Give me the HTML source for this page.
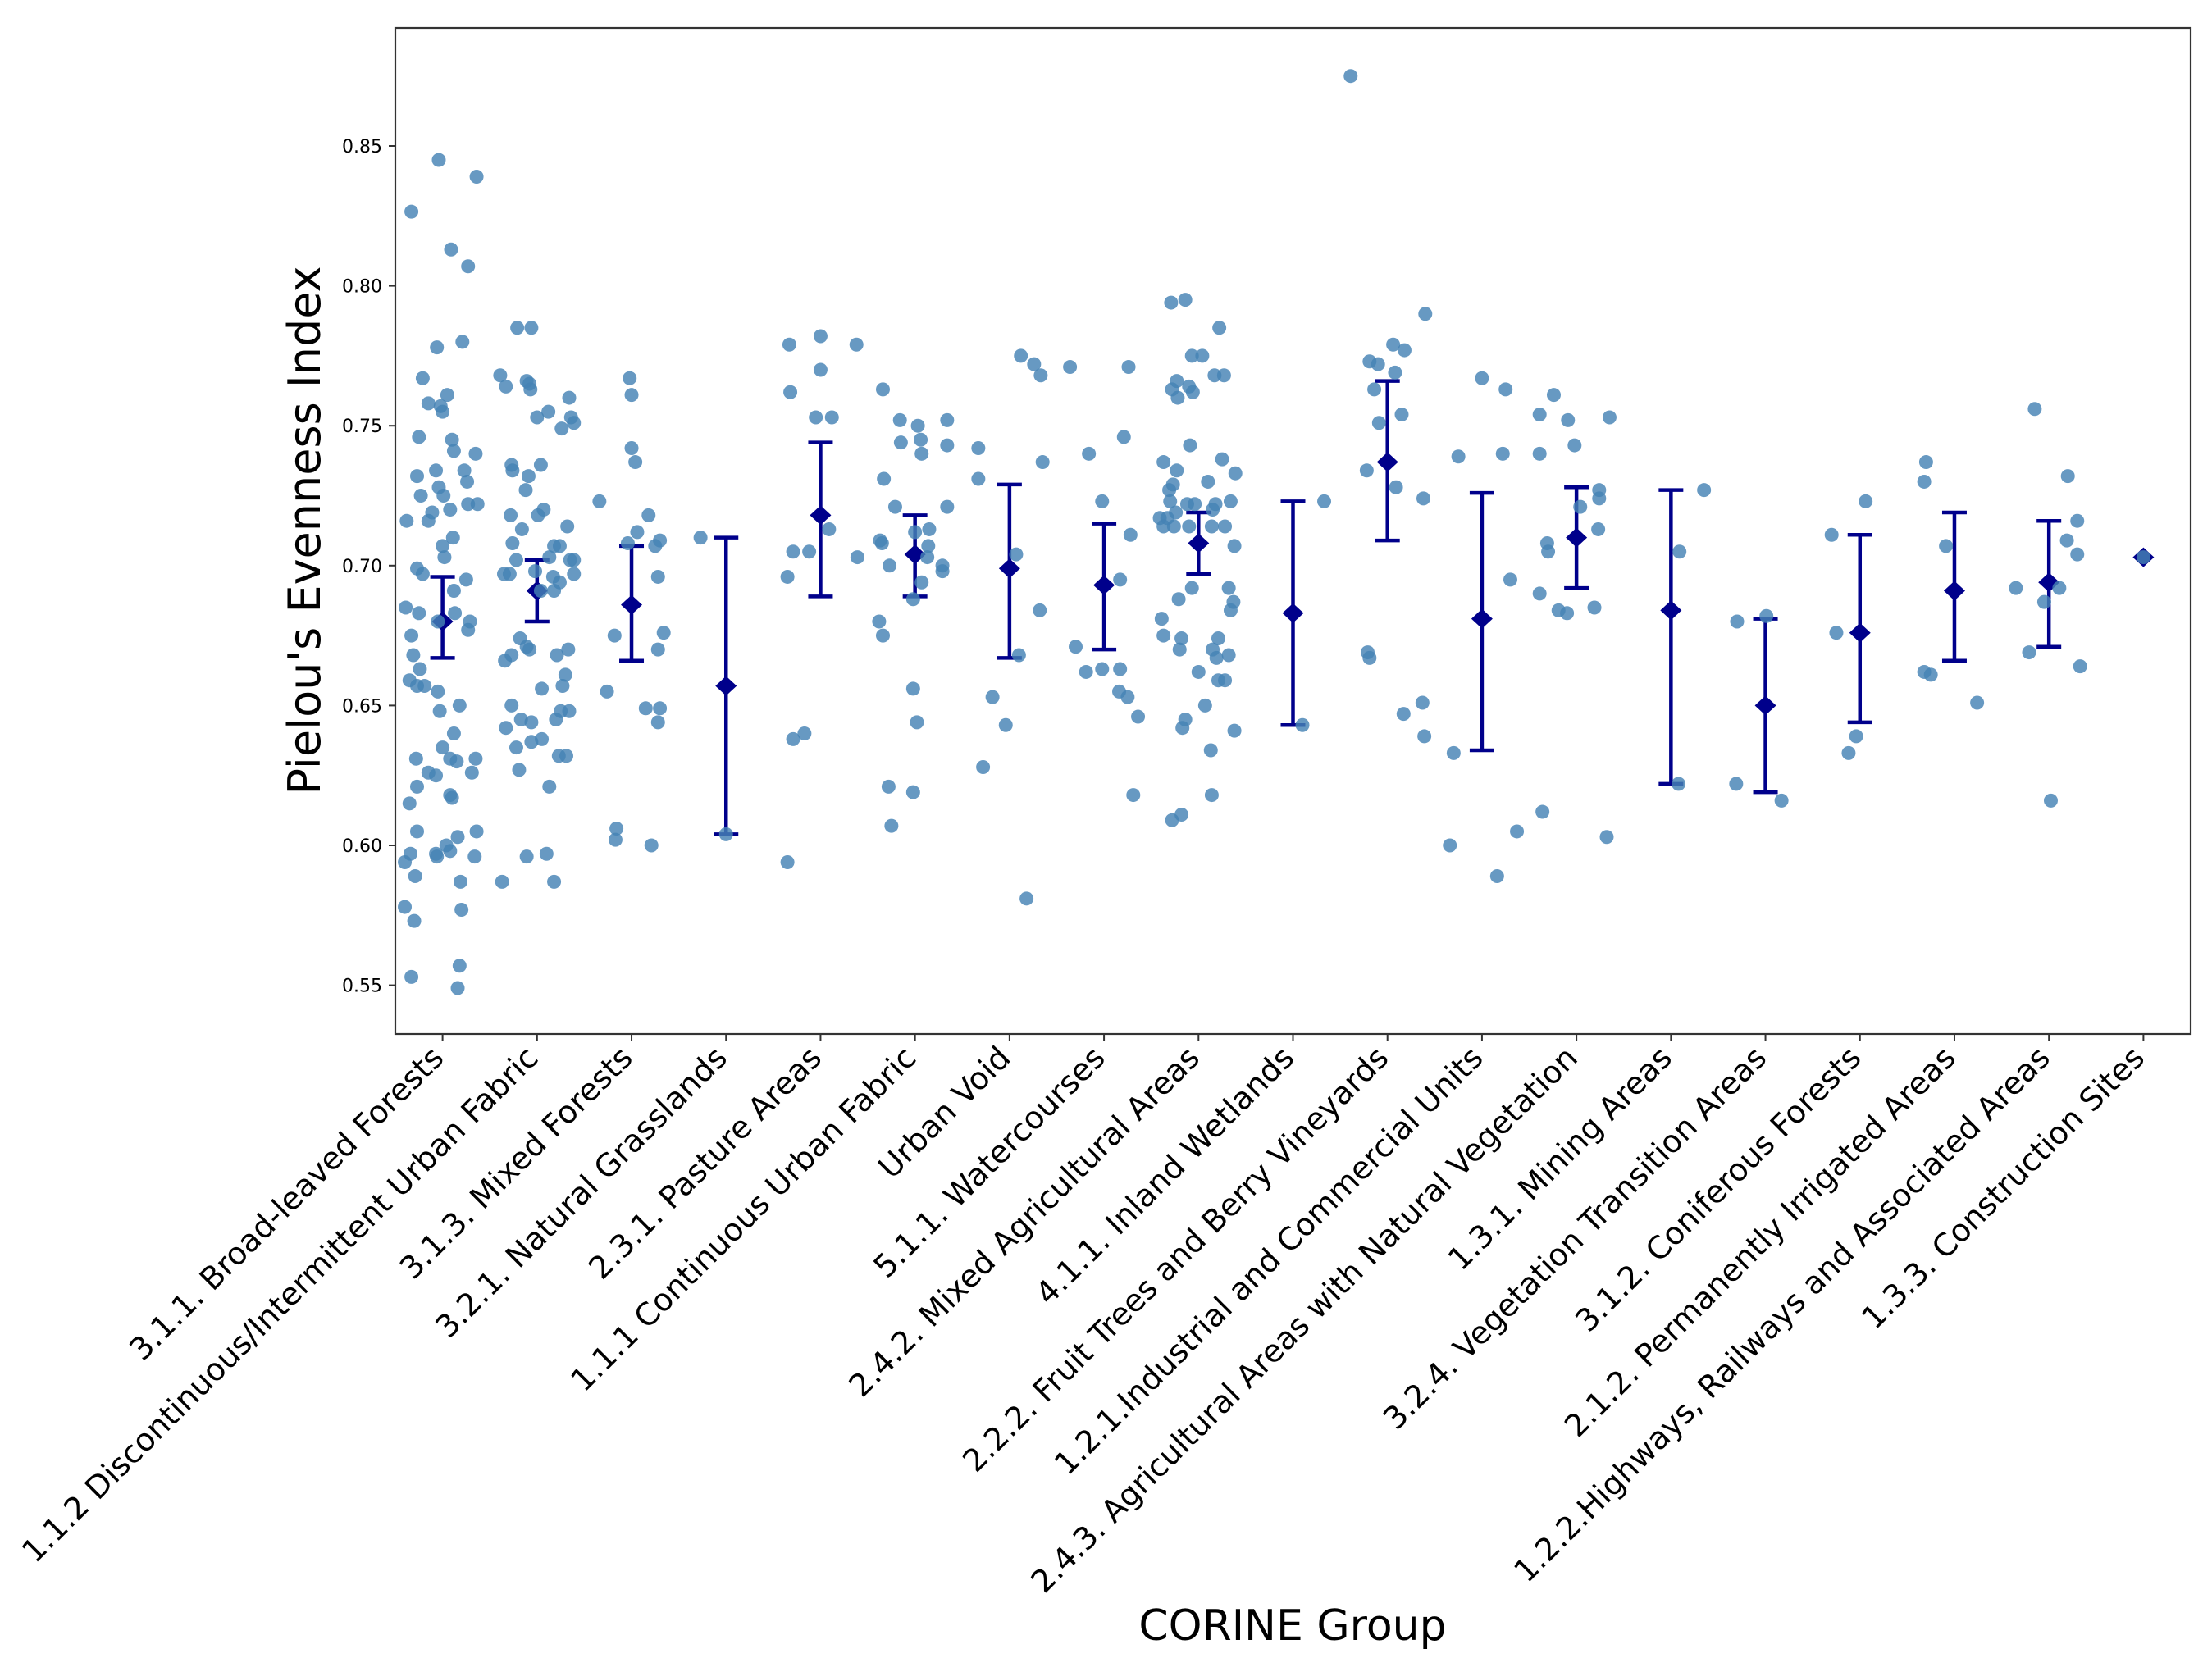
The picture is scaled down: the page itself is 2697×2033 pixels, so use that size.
<!DOCTYPE html>
<html><head><meta charset="utf-8"><style>
html,body{margin:0;padding:0;background:#fff;}
svg{display:block;font-family:"DejaVu Sans","Liberation Sans",sans-serif;}
</style></head><body>
<svg id="chart" width="2697" height="2033" viewBox="0 0 2697 2033"></svg>
<script>
const categories=["3.1.1. Broad-leaved Forests","1.1.2 Discontinuous/Intermittent Urban Fabric","3.1.3. Mixed Forests","3.2.1. Natural Grasslands","2.3.1. Pasture Areas","1.1.1 Continuous Urban Fabric","Urban Void","5.1.1. Watercourses","2.4.2. Mixed Agricultural Areas","4.1.1. Inland Wetlands","2.2.2. Fruit Trees and Berry Vineyards","1.2.1.Industrial and Commercial Units","2.4.3. Agricultural Areas with Natural Vegetation","1.3.1. Mining Areas","3.2.4. Vegetation Transition Areas","3.1.2. Coniferous Forests","2.1.2. Permanently Irrigated Areas","1.2.2.Highways, Railways and Associated Areas","1.3.3. Construction Sites"];
const means=[0.680,0.691,0.686,0.657,0.718,0.704,0.699,0.693,0.708,0.683,0.737,0.681,0.710,0.684,0.650,0.676,0.691,0.694,0.703];
const errLow=[0.667,0.680,0.666,0.604,0.689,0.689,0.667,0.670,0.697,0.643,0.709,0.634,0.692,0.622,0.619,0.644,0.666,0.671,null];
const errHigh=[0.696,0.702,0.707,0.710,0.744,0.718,0.729,0.715,0.719,0.723,0.766,0.726,0.728,0.727,0.681,0.711,0.719,0.716,null];
const yTicks=[0.55,0.60,0.65,0.70,0.75,0.80,0.85];
const yTickLabels=["0.55","0.60","0.65","0.70","0.75","0.80","0.85"];
// observations per category: [jitter (fraction of category width), value]
const obs=[
[[-0.33,0.8265],[-0.04,0.845],[0.36,0.839],[0.09,0.813],[0.27,0.807],[-0.06,0.778],[0.21,0.780],[-0.21,0.767],[-0.15,0.758],[-0.02,0.757],[0.05,0.761],[0,0.755],[-0.25,0.746],[0.10,0.745],[0.12,0.741],[0.35,0.740],[-0.27,0.732],[-0.07,0.734],[0.23,0.734],[0.26,0.730],[-0.23,0.725],[-0.04,0.728],[0.01,0.725],[0.27,0.722],[0.37,0.722],[-0.38,0.716],[-0.15,0.716],[-0.11,0.719],[0.08,0.720],[0,0.707],[0.02,0.703],[0.11,0.710],[-0.27,0.699],[-0.21,0.697],[0.25,0.695],[-0.39,0.685],[-0.25,0.683],[0.12,0.691],[0.13,0.683],[0.29,0.680],[0.27,0.677],[-0.05,0.680],[-0.33,0.675],[-0.31,0.668],[-0.24,0.663],[-0.35,0.659],[-0.27,0.657],[-0.19,0.657],[-0.05,0.655],[-0.03,0.648],[0.18,0.650],[0.12,0.640],[0,0.635],[-0.28,0.631],[-0.15,0.626],[-0.07,0.625],[0.08,0.631],[0.15,0.630],[0.31,0.626],[0.35,0.631],[-0.27,0.621],[0.08,0.618],[0.10,0.617],[-0.35,0.615],[-0.27,0.605],[0.36,0.605],[0.16,0.603],[-0.34,0.597],[-0.07,0.597],[-0.06,0.596],[0.08,0.598],[0.04,0.600],[0.34,0.596],[-0.40,0.594],[-0.29,0.589],[0.19,0.587],[-0.40,0.578],[0.20,0.577],[-0.30,0.573],[0.18,0.557],[-0.33,0.553],[0.16,0.549]],
[[-0.39,0.768],[-0.33,0.764],[-0.21,0.785],[-0.06,0.785],[-0.11,0.766],[-0.08,0.765],[-0.07,0.763],[0.34,0.760],[0,0.753],[0.12,0.755],[0.36,0.753],[0.39,0.751],[0.26,0.749],[-0.27,0.736],[-0.26,0.734],[-0.09,0.732],[0.04,0.736],[-0.12,0.727],[-0.28,0.718],[-0.16,0.713],[0.01,0.718],[0.07,0.720],[0.32,0.714],[-0.26,0.708],[0.18,0.707],[0.24,0.707],[-0.22,0.702],[0.13,0.703],[0.35,0.702],[0.39,0.702],[-0.35,0.697],[-0.29,0.697],[-0.02,0.698],[0.17,0.696],[0.24,0.694],[0.39,0.697],[0.04,0.691],[0.18,0.691],[-0.18,0.674],[-0.11,0.671],[-0.08,0.670],[0.21,0.668],[0.33,0.670],[-0.34,0.666],[-0.27,0.668],[0.30,0.661],[0.27,0.657],[0.05,0.656],[-0.27,0.650],[0.34,0.648],[0.25,0.648],[0.20,0.645],[-0.17,0.645],[-0.06,0.644],[-0.33,0.642],[-0.22,0.635],[-0.06,0.637],[0.05,0.638],[0.23,0.632],[0.31,0.632],[-0.19,0.627],[0.13,0.621],[-0.11,0.596],[0.10,0.597],[-0.37,0.587],[0.18,0.587]],
[[-0.02,0.767],[0,0.761],[0,0.742],[0.04,0.737],[-0.34,0.723],[0.06,0.712],[0.18,0.718],[-0.04,0.708],[0.30,0.709],[0.25,0.707],[0.28,0.696],[0.34,0.676],[-0.18,0.675],[0.28,0.670],[-0.26,0.655],[0.15,0.649],[0.30,0.649],[0.28,0.644],[-0.16,0.606],[-0.17,0.602],[0.21,0.600]],
[[-0.27,0.710],[0,0.604]],
[[-0.33,0.779],[0,0.782],[0,0.770],[-0.32,0.762],[0.38,0.779],[-0.05,0.753],[0.12,0.753],[0.09,0.713],[-0.29,0.705],[-0.12,0.705],[-0.35,0.696],[0.39,0.703],[-0.29,0.638],[-0.17,0.640],[-0.35,0.594]],
[[-0.34,0.763],[-0.16,0.752],[0.03,0.750],[0.34,0.752],[-0.15,0.744],[0.06,0.745],[0.07,0.740],[0.34,0.743],[-0.33,0.731],[-0.21,0.721],[0.34,0.721],[0,0.712],[0.15,0.713],[-0.37,0.709],[-0.35,0.708],[0.14,0.707],[0.13,0.703],[-0.27,0.700],[0.29,0.700],[0.29,0.698],[0.07,0.694],[-0.02,0.688],[-0.38,0.680],[-0.34,0.675],[-0.02,0.656],[0.02,0.644],[-0.28,0.621],[-0.02,0.619],[-0.25,0.607]],
[[-0.33,0.742],[-0.33,0.731],[0.07,0.704],[0.32,0.684],[0.10,0.668],[-0.18,0.653],[-0.04,0.643],[-0.28,0.628],[0.18,0.581],[0.12,0.775],[0.26,0.772],[0.33,0.768],[0.35,0.737]],
[[-0.36,0.771],[0.26,0.771],[-0.16,0.740],[0.21,0.746],[-0.02,0.723],[0.28,0.711],[0.17,0.695],[-0.30,0.671],[-0.19,0.662],[-0.02,0.663],[0.17,0.663],[0.16,0.655],[0.25,0.653],[0.36,0.646],[0.31,0.618]],
[[-0.29,0.794],[-0.14,0.795],[0.22,0.785],[-0.07,0.775],[0.04,0.775],[0.17,0.768],[0.27,0.768],[-0.23,0.766],[-0.28,0.763],[-0.22,0.760],[-0.10,0.764],[-0.06,0.762],[-0.09,0.743],[-0.37,0.737],[0.25,0.738],[-0.23,0.734],[0.39,0.733],[-0.27,0.729],[0.10,0.730],[-0.31,0.727],[-0.30,0.723],[-0.12,0.722],[-0.04,0.722],[0.18,0.722],[0.34,0.723],[-0.41,0.717],[-0.33,0.717],[-0.24,0.719],[0.15,0.720],[-0.37,0.714],[-0.26,0.714],[-0.10,0.714],[0.14,0.714],[0.28,0.714],[0.38,0.707],[-0.21,0.688],[-0.07,0.692],[0.32,0.692],[0.37,0.687],[0.34,0.684],[-0.39,0.681],[-0.37,0.675],[-0.18,0.674],[-0.20,0.670],[0.21,0.674],[0.15,0.670],[0.19,0.667],[0.32,0.668],[0,0.662],[0.21,0.659],[0.28,0.659],[0.07,0.650],[-0.14,0.645],[-0.17,0.642],[0.38,0.641],[0.13,0.634],[0.14,0.618],[-0.28,0.609],[-0.18,0.611]],
[[0.33,0.723],[0.10,0.643]],
[[-0.39,0.875],[-0.19,0.773],[-0.10,0.772],[0.06,0.779],[0.18,0.777],[0.40,0.790],[0.08,0.769],[-0.14,0.763],[0.15,0.754],[-0.09,0.751],[-0.22,0.734],[0.09,0.728],[0.38,0.724],[-0.21,0.669],[-0.19,0.667],[0.17,0.647],[0.37,0.651],[0.39,0.639]],
[[0,0.767],[0.25,0.763],[-0.25,0.739],[0.22,0.740],[0.30,0.695],[-0.30,0.633],[-0.34,0.600],[0.16,0.589],[0.37,0.605]],
[[-0.39,0.754],[-0.24,0.761],[-0.09,0.752],[-0.02,0.743],[-0.39,0.740],[0.04,0.721],[0.24,0.727],[0.24,0.724],[0.23,0.713],[-0.31,0.708],[-0.30,0.705],[-0.39,0.690],[-0.19,0.684],[-0.10,0.683],[0.19,0.685],[-0.36,0.612],[0.32,0.603],[0.35,0.753]],
[[0.35,0.727],[0.09,0.705],[0.08,0.622]],
[[-0.30,0.680],[0.01,0.682],[-0.31,0.622],[0.17,0.616]],
[[0.06,0.723],[-0.30,0.711],[-0.25,0.676],[-0.04,0.639],[-0.12,0.633]],
[[-0.30,0.737],[-0.32,0.730],[-0.09,0.707],[-0.32,0.662],[-0.25,0.661],[0.24,0.651]],
[[-0.15,0.756],[0.20,0.732],[0.30,0.716],[0.19,0.709],[0.30,0.704],[-0.35,0.692],[-0.05,0.687],[0.11,0.692],[-0.21,0.669],[0.33,0.664],[0.02,0.616]],
[[0,0.703]]
];

const NS="http://www.w3.org/2000/svg";
const svg=document.getElementById('chart');
const L=482,R=2671,T=34,B=1261;
const step=(R-L)/categories.length;
function xPos(i){return L+step*(i+0.5);}
function yPos(v){return 178+(0.85-v)/0.05*170.6;}
function mk(tag,attrs,parent){const e=document.createElementNS(NS,tag);for(const k in attrs)e.setAttribute(k,attrs[k]);(parent||svg).appendChild(e);return e;}

const frame=mk('rect',{x:L,y:T,width:R-L,height:B-T,fill:'none',stroke:'#333',"stroke-width":2.2});



const yAxis=mk('g',{});


yTicks.forEach((t,i)=>{
  const y=yPos(t);
  const tk=mk('line',{x1:L-8,x2:L,y1:y,y2:y,stroke:'#333',"stroke-width":2},yAxis);
  
  
  const tx=mk('text',{x:L-16,y:y+8,"text-anchor":"end","font-size":22,fill:'#000'},yAxis);
  tx.textContent=yTickLabels[i];
  
  
});

const xAxis=mk('g',{});


categories.forEach((c,i)=>{
  const x=xPos(i);
  const tk=mk('line',{x1:x,x2:x,y1:B,y2:B+9,stroke:'#333',"stroke-width":2},xAxis);
  
  
  const ax=x-16,ay=B+12;
  const tx=mk('text',{x:ax,y:ay,"text-anchor":"end","font-size":38,fill:'#000',dy:'0.72em',transform:`rotate(-45 ${ax} ${ay})`},xAxis);
  tx.textContent=c;
  
  
});

const yt=mk('text',{x:0,y:0,"text-anchor":"middle","font-size":54,fill:'#000',transform:`translate(390 647) rotate(-90)`});
yt.textContent="Pielou's Evenness Index";


const xt=mk('text',{x:1576,y:2000,"text-anchor":"middle","font-size":52,fill:'#000'});
xt.textContent="CORINE Group";



// error bars + means
const eg=mk('g',{});


means.forEach((m,i)=>{
  const x=xPos(i);
  if(errLow[i]!==null){
    const y1=yPos(errLow[i]),y2=yPos(errHigh[i]);
    const v=mk('line',{x1:x,x2:x,y1:y1,y2:y2,stroke:'#00008b',"stroke-width":4.5},eg);
    
    
    [y1,y2].forEach(yy=>{
      const cp=mk('line',{x1:x-15,x2:x+15,y1:yy,y2:yy,stroke:'#00008b',"stroke-width":4.5},eg);
      
      
    });
  }
  const y=yPos(m);
  const d=mk('polygon',{points:`${x-13},${y} ${x},${y-12} ${x+13},${y} ${x},${y+12}`,fill:'#00008b'},eg);
  
  
});

// observation points
const pg=mk('g',{});


obs.forEach((arr,i)=>{
  arr.forEach(p=>{
    const c=mk('circle',{cx:xPos(i)+p[0]*step,cy:yPos(p[1]),r:8.5,fill:'#4682b4',"fill-opacity":0.82},pg);
    
    
  });
});
</script>
</body></html>
